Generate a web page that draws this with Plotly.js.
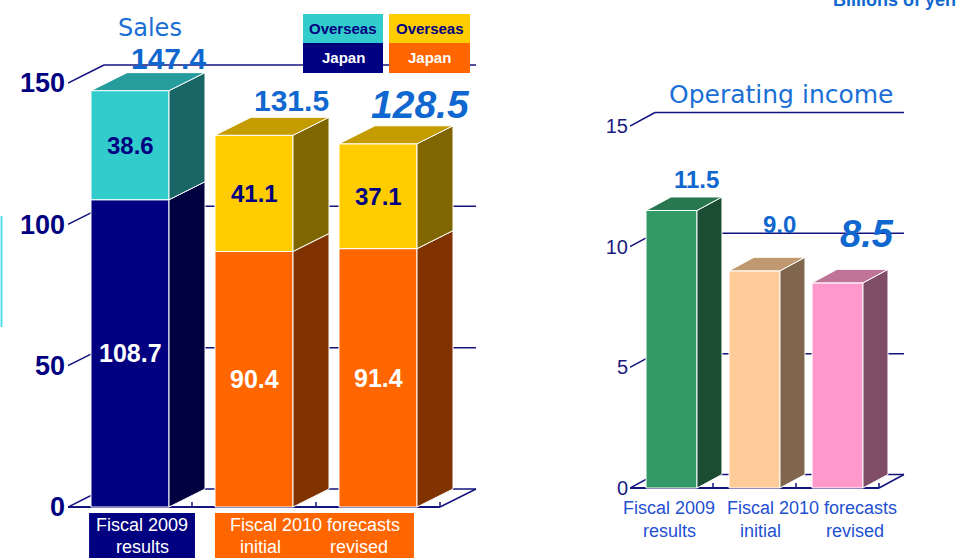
<!DOCTYPE html>
<html>
<head>
<meta charset="utf-8">
<script src="https://cdn.plot.ly/plotly-3.0.1.min.js"></script>
<style>html,body{margin:0;padding:0;background:#fff;}#chart{width:963px;height:558px;}</style>
</head>
<body>
<div id="chart"></div>
<script>
// ---------------- data ----------------
const categories = ['Fiscal 2009 results', 'Fiscal 2010 forecasts initial', 'Fiscal 2010 forecasts revised'];
const catLine1 = ['Fiscal 2009', 'Fiscal 2010 forecasts'];
const catLine2 = ['results', 'initial', 'revised'];
const salesJapan = [108.7, 90.4, 91.4];
const salesOverseas = [38.6, 41.1, 37.1];
const salesTotal = [147.4, 131.5, 128.5];
const opIncome = [11.5, 9.0, 8.5];
const salesTicks = [0, 50, 100, 150];
const opTicks = [0, 5, 10, 15];
const legendLabels = ['Overseas', 'Japan'];

// ---------------- geometry / styles ----------------
const W = 963, H = 558;
const L = {x0px: 68, x1px: 500, pxPerX: 124, y0px: 507, pxPerY: 424 / 150, dxPx: 36, dyPx: 18, width: 0.629};
const R = {x0px: 630, x1px: 963, pxPerX: 83, y0px: 488, pxPerY: 362 / 15, dxPx: 25, dyPx: 13.5, width: 0.614};
[L, R].forEach(c => {
  c.xr = [-0.5, -0.5 + (c.x1px - c.x0px) / c.pxPerX];
  c.yr = [-(H - c.y0px) / c.pxPerY, -(H - c.y0px) / c.pxPerY + H / c.pxPerY];
  c.dx = c.dxPx / c.pxPerX;
  c.dy = c.dyPx / c.pxPerY;
});
const navy = '#14147e';
const blue = '#0f67cf';
const titleBlue = '#1a6fd6';
const catBlue = '#1e50d2';
const sans = 'Liberation Sans, Arial, sans-serif';

const salesColors = {
  japan: {front: ['#000080', '#FF6600', '#FF6600'], side: ['#000040', '#803300', '#803300']},
  overseas: {front: ['#33CCCC', '#FFCC00', '#FFCC00'], side: ['#1A6666', '#806600', '#806600'], top: ['#279C9C', '#C49C00', '#C49C00']}
};
const opColors = {front: ['#339966', '#FFCC99', '#FF99CC'], side: ['#1C4D33', '#80664D', '#804D66'], top: ['#28774F', '#BF9870', '#BF7399']};

const traces = [];
const shapes = [];
const annotations = [];

function ann(o) {
  annotations.push(Object.assign({showarrow: false, xanchor: 'center', yanchor: 'middle'}, o));
}
function poly(xa, ya, pts, color) {
  traces.push({
    type: 'scatter', mode: 'lines', xaxis: xa, yaxis: ya,
    x: pts.map(p => p[0]).concat([pts[0][0]]),
    y: pts.map(p => p[1]).concat([pts[0][1]]),
    fill: 'toself', fillcolor: color,
    line: {color: '#ffffff', width: 1}, hoverinfo: 'skip', showlegend: false
  });
}
function sideFace(c, xa, ya, i, b, t, color) {
  const xr = i + c.width / 2;
  poly(xa, ya, [[xr, b], [xr + c.dx, b + c.dy], [xr + c.dx, t + c.dy], [xr, t]], color);
}
function topFace(c, xa, ya, i, t, color) {
  const xl = i - c.width / 2, xr = i + c.width / 2;
  poly(xa, ya, [[xl, t], [xl + c.dx, t + c.dy], [xr + c.dx, t + c.dy], [xr, t]], color);
}
function floorAndGrid(c, xref, yref, ticks) {
  const ln = {color: navy, width: 1.5};
  ticks.forEach(v => {
    shapes.push({type: 'line', layer: 'below', xref, yref, x0: -0.5, y0: v, x1: -0.5 + c.dx, y1: v + c.dy, line: ln});
    shapes.push({type: 'line', layer: 'below', xref, yref, x0: -0.5 + c.dx, y0: v + c.dy, x1: 2.5 + c.dx, y1: v + c.dy, line: ln});
  });
  shapes.push({type: 'line', layer: 'below', xref, yref, x0: 2.5, y0: 0, x1: 2.5 + c.dx, y1: c.dy, line: ln});
  shapes.push({type: 'line', layer: 'below', xref, yref, x0: -0.5, y0: 0, x1: 2.5, y1: 0, line: {color: navy, width: 2}});
  [0.5, 1.5, 2.5].forEach(x => {
    shapes.push({type: 'line', layer: 'below', xref, yref, x0: x, y0: 0, x1: x, y1: 5 / c.pxPerY, line: ln});
  });
}

// ---------- Sales (left) ----------
const idx = [0, 1, 2];
traces.push({type: 'bar', x: idx, y: salesJapan, base: idx.map(() => 0), width: L.width,
  marker: {color: salesColors.japan.front, line: {color: '#fff', width: 1}}, hoverinfo: 'skip', showlegend: false, xaxis: 'x', yaxis: 'y'});
traces.push({type: 'bar', x: idx, y: salesOverseas, base: salesJapan, width: L.width,
  marker: {color: salesColors.overseas.front, line: {color: '#fff', width: 1}}, hoverinfo: 'skip', showlegend: false, xaxis: 'x', yaxis: 'y'});
idx.forEach(i => {
  const top = salesJapan[i] + salesOverseas[i];
  sideFace(L, 'x', 'y', i, 0, salesJapan[i], salesColors.japan.side[i]);
  sideFace(L, 'x', 'y', i, salesJapan[i], top, salesColors.overseas.side[i]);
  topFace(L, 'x', 'y', i, top, salesColors.overseas.top[i]);
  ann({xref: 'x', yref: 'y', x: i, y: salesJapan[i] / 2, text: salesJapan[i].toFixed(1),
    font: {family: sans, size: 25, color: '#ffffff', weight: 'bold'}});
  ann({xref: 'x', yref: 'y', x: i, y: salesJapan[i] + salesOverseas[i] / 2, text: salesOverseas[i].toFixed(1),
    font: {family: sans, size: 24, color: '#000080', weight: 'bold'}});
});
const salesLabelShift = [14, 17, 21];
const salesLabelXShift = [2, 1, 6];
const salesLabelStyle = [{size: 30, style: 'normal'}, {size: 30, style: 'normal'}, {size: 39, style: 'italic'}];
idx.forEach(i => {
  ann({xref: 'x', yref: 'y', x: i + L.dx, y: salesJapan[i] + salesOverseas[i] + L.dy, yshift: salesLabelShift[i], xshift: salesLabelXShift[i],
    text: salesTotal[i].toFixed(1),
    font: {family: sans, size: salesLabelStyle[i].size, color: blue, weight: 'bold', style: salesLabelStyle[i].style}});
});
floorAndGrid(L, 'x', 'y', salesTicks);

// ---------- Operating income (right) ----------
traces.push({type: 'bar', x: idx, y: opIncome, base: idx.map(() => 0), width: R.width,
  marker: {color: opColors.front, line: {color: '#fff', width: 1}}, hoverinfo: 'skip', showlegend: false, xaxis: 'x2', yaxis: 'y2'});
idx.forEach(i => {
  sideFace(R, 'x2', 'y2', i, 0, opIncome[i], opColors.side[i]);
  topFace(R, 'x2', 'y2', i, opIncome[i], opColors.top[i]);
});
const opLabelShift = [17, 33, 35];
const opLabelXShift = [0, 0, 4];
const opLabelStyle = [{size: 24, style: 'normal'}, {size: 24, style: 'normal'}, {size: 38, style: 'italic'}];
idx.forEach(i => {
  ann({xref: 'x2', yref: 'y2', x: i + R.dx, y: opIncome[i] + R.dy, yshift: opLabelShift[i], xshift: opLabelXShift[i],
    text: opIncome[i].toFixed(1),
    font: {family: sans, size: opLabelStyle[i].size, color: blue, weight: 'bold', style: opLabelStyle[i].style}});
});
floorAndGrid(R, 'x2', 'y2', opTicks);

// ---------- titles, legend, category labels ----------
const py = p => 1 - p / H;
const pxf = p => p / W;
ann({xref: 'paper', yref: 'paper', x: pxf(150), y: py(28), text: 'Sales',
  font: {family: 'DejaVu Sans, sans-serif', size: 24, color: titleBlue}});
ann({xref: 'paper', yref: 'paper', x: pxf(781), y: py(94), text: 'Operating income',
  font: {family: 'DejaVu Sans, sans-serif', size: 25, color: titleBlue}});
ann({xref: 'paper', yref: 'paper', x: pxf(958), y: py(0), xanchor: 'right', yanchor: 'middle', text: 'Billions of yen',
  font: {family: sans, size: 18, color: blue, weight: 'bold'}});

// legend boxes
const legendBoxes = [
  {x0: 303, x1: 383, colors: ['#33CCCC', '#000080']},
  {x0: 389, x1: 470, colors: ['#FFCC00', '#FF6600']}
];
const legendTextColors = ['#000080', '#ffffff'];
legendBoxes.forEach(b => {
  [[14, 43], [43, 73]].forEach((yy, k) => {
    shapes.push({type: 'rect', xref: 'paper', yref: 'paper', x0: pxf(b.x0), x1: pxf(b.x1), y0: py(yy[1]), y1: py(yy[0]),
      fillcolor: b.colors[k], line: {width: 0}, layer: 'above'});
    ann({xref: 'paper', yref: 'paper', x: pxf((b.x0 + b.x1) / 2), y: py((yy[0] + yy[1]) / 2), text: legendLabels[k],
      font: {family: sans, size: 15, color: legendTextColors[k], weight: 'bold'}});
  });
});

// category label boxes (left)
shapes.push({type: 'rect', xref: 'x', yref: 'paper', x0: -0.33, x1: 0.524, y0: 0, y1: py(513), fillcolor: '#000080', line: {width: 0}});
shapes.push({type: 'rect', xref: 'x', yref: 'paper', x0: 0.685, x1: 2.29, y0: 0, y1: py(513), fillcolor: '#FF6600', line: {width: 0}});
const catFontL = {family: sans, size: 18, color: '#ffffff'};
ann({xref: 'x', yref: 'paper', x: 0.097, y: py(525), text: catLine1[0], font: catFontL});
ann({xref: 'x', yref: 'paper', x: 0.097, y: py(547), text: catLine2[0], font: catFontL});
ann({xref: 'x', yref: 'paper', x: 1.49, y: py(525), text: catLine1[1], font: catFontL});
ann({xref: 'x', yref: 'paper', x: 1.05, y: py(547), text: catLine2[1], font: catFontL});
ann({xref: 'x', yref: 'paper', x: 1.85, y: py(547), text: catLine2[2], font: catFontL});
// category labels (right)
const catFontR = {family: sans, size: 18, color: catBlue};
ann({xref: 'x2', yref: 'paper', x: -0.03, y: py(508), text: catLine1[0], font: catFontR});
ann({xref: 'x2', yref: 'paper', x: -0.03, y: py(531), text: catLine2[0], font: catFontR});
ann({xref: 'x2', yref: 'paper', x: 1.69, y: py(508), text: catLine1[1], font: catFontR});
ann({xref: 'x2', yref: 'paper', x: 1.07, y: py(531), text: catLine2[1], font: catFontR});
ann({xref: 'x2', yref: 'paper', x: 2.21, y: py(531), text: catLine2[2], font: catFontR});

// stray cyan edge at the left border
shapes.push({type: 'line', xref: 'paper', yref: 'paper', x0: pxf(1.5), x1: pxf(1.5), y0: py(327), y1: py(216), line: {color: '#55DDEE', width: 2}});

const layout = {
  width: W, height: H,
  margin: {l: 0, r: 0, t: 0, b: 0},
  paper_bgcolor: '#ffffff', plot_bgcolor: 'rgba(0,0,0,0)',
  showlegend: false, barmode: 'overlay', hovermode: false,
  xaxis: {domain: [pxf(L.x0px), pxf(L.x1px)], range: L.xr, visible: false, fixedrange: true},
  yaxis: {domain: [0, 1], range: L.yr, anchor: 'x', tickvals: salesTicks, ticks: '', showgrid: false, zeroline: false, showline: false,
    tickfont: {family: sans, size: 27, color: '#000080', weight: 'bold'}, ticklabelstandoff: 2},
  xaxis2: {domain: [pxf(R.x0px), 1], range: R.xr, visible: false, fixedrange: true},
  yaxis2: {domain: [0, 1], range: R.yr, anchor: 'x2', tickvals: opTicks, ticks: '', showgrid: false, zeroline: false, showline: false,
    tickfont: {family: sans, size: 20, color: '#1a1a80'}, ticklabelstandoff: 1},
  shapes, annotations
};
Plotly.newPlot('chart', traces, layout, {staticPlot: true, displayModeBar: false});
</script>
</body>
</html>
